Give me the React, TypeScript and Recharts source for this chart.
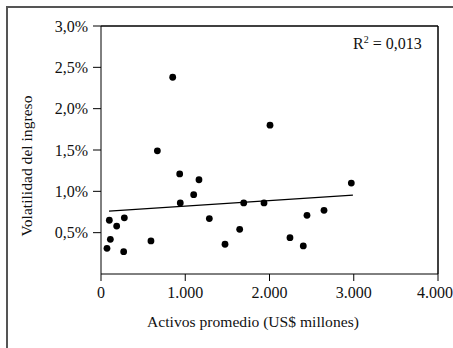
import React from 'react';
import {
  ScatterChart,
  Scatter,
  XAxis,
  YAxis,
  ReferenceLine
} from 'recharts';

// Activos promedio (US$ millones) y volatilidad del ingreso (%)
const activos = [
  851, 2006, 669, 934, 1163, 1100, 941, 1694, 1935, 2971, 2647, 2445,
  1286, 277, 99, 186, 1646, 111, 593, 2243, 1472, 2401, 71, 269
];
const volatilidad = [
  2.38, 1.8, 1.49, 1.21, 1.14, 0.96, 0.86, 0.86, 0.86, 1.1, 0.77, 0.71,
  0.67, 0.68, 0.65, 0.58, 0.54, 0.42, 0.4, 0.44, 0.36, 0.34, 0.31, 0.27
];

// recta de tendencia (extremos)
const trendX = [95, 2990];
const trendY = [0.76, 0.955];

const xTicks = [0, 1000, 2000, 3000, 4000];
const yTicks = [0.5, 1, 1.5, 2, 2.5, 3];

const FONT = "'Liberation Serif', 'DejaVu Serif', serif";
const tickStyle = { fontFamily: FONT, fontSize: 16, fill: '#111' };
const labelStyle = { fontFamily: FONT, fontSize: 15.6, fill: '#111' };

const points = activos.map((x, i) => ({ x, y: volatilidad[i] }));

const fmtX = (v: number) => v.toString().replace(/\B(?=(\d{3})+(?!\d))/g, '.');
const fmtY = (v: number) => v.toFixed(1).replace('.', ',') + '%';

const Dot = (props: any) => <circle cx={props.cx} cy={props.cy} r={3.4} fill="#000" />;

export default function App() {
  return (
    <div style={{ position: 'absolute', left: 0, top: 0, width: 453, height: 348, overflow: 'hidden', background: '#fff', fontFamily: FONT }}>
      {/* marco exterior */}
      <div style={{ position: 'absolute', left: 6, top: 6, width: 460, height: 360, borderLeft: '2px solid #555', borderTop: '2px solid #555' }} />
      <div style={{ position: 'absolute', left: 0, top: 0 }}>
        <ScatterChart width={453} height={348} margin={{ top: 26, right: 15, left: 0, bottom: 0 }} style={{ fontFamily: FONT }}>
          <XAxis
            type="number"
            dataKey="x"
            domain={[0, 4000]}
            ticks={xTicks}
            tickFormatter={fmtX}
            height={74}
            tickSize={7}
            tickMargin={6}
            stroke="#000"
            tick={{ fill: '#111', fontSize: 16, style: tickStyle }}
            label={{
              content: () => (
                <text x={253} y={327} textAnchor="middle" style={labelStyle}>
                  Activos promedio (US$ millones)
                </text>
              )
            }}
          />
          <YAxis
            type="number"
            dataKey="y"
            domain={[0, 3]}
            ticks={yTicks}
            tickFormatter={fmtY}
            width={101}
            tickSize={8}
            tickMargin={5}
            stroke="#000"
            tick={{ fill: '#111', fontSize: 16, style: tickStyle }}
            label={{
              content: () => (
                <text x={32} y={166} transform="rotate(-90 32 166)" textAnchor="middle" style={labelStyle}>
                  Volatilidad del ingreso
                </text>
              )
            }}
          />
          <ReferenceLine y={3} stroke="#000" strokeWidth={1.5} />
          <ReferenceLine x={4000} stroke="#000" strokeWidth={1.5} />
          <ReferenceLine
            segment={[
              { x: trendX[0], y: trendY[0] },
              { x: trendX[1], y: trendY[1] }
            ]}
            stroke="#000"
            strokeWidth={1.2}
          />
          <Scatter data={points} fill="#000" shape={Dot} isAnimationActive={false} />
        </ScatterChart>
      </div>
      <div style={{ position: 'absolute', left: 353, top: 34, fontSize: 16, color: '#111', whiteSpace: 'nowrap' }}>
        R<sup style={{ fontSize: 10 }}>2</sup> = 0,013
      </div>
    </div>
  );
}
